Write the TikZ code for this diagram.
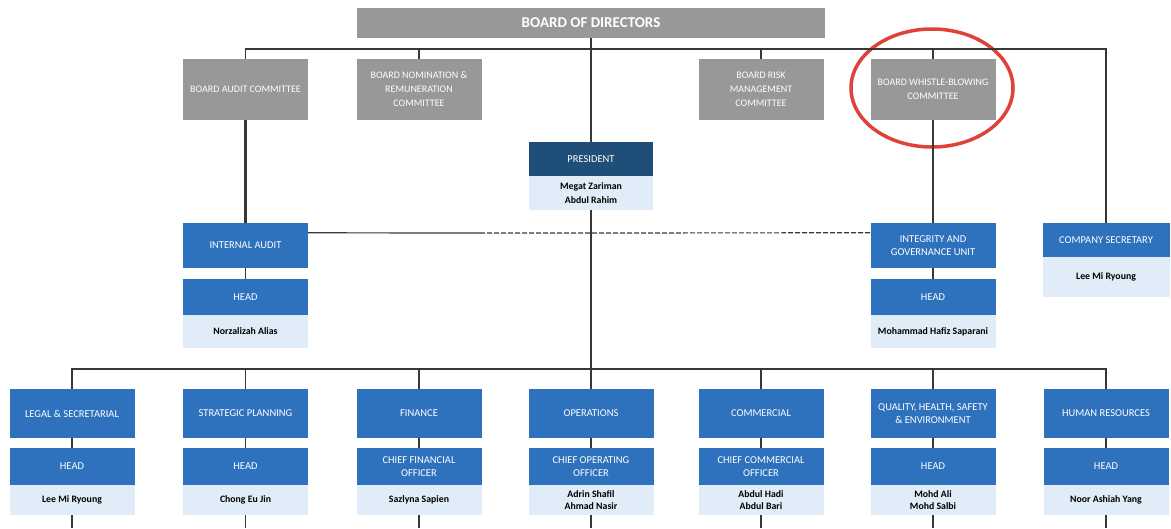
\documentclass[tikz,border=0pt]{standalone}
\usepackage{fontspec}
\setmainfont{Carlito}
\usepackage{tikz}
\usetikzlibrary{positioning}
\definecolor{boardgrey}{RGB}{152,152,152}
\definecolor{unitblue}{RGB}{46,114,190}
\definecolor{presblue}{RGB}{31,78,121}
\definecolor{namebg}{RGB}{224,236,247}
\definecolor{linegrey}{RGB}{55,55,55}
\definecolor{circlered}{RGB}{222,66,58}

\begin{document}
\begin{tikzpicture}[x=1pt,y=-1pt,
    grey node/.style={rectangle,fill=boardgrey,text=white,align=center,inner sep=1pt,minimum width=125pt,minimum height=61pt,font=\fontsize{10}{14}\selectfont},
    blue node/.style={rectangle,fill=unitblue,text=white,align=center,inner sep=1pt,minimum width=125pt,minimum height=49pt,font=\fontsize{10.5}{13}\selectfont},
    head node/.style={blue node,minimum height=37pt},
    name node/.style={rectangle,fill=namebg,text=black,align=center,inner sep=1pt,minimum width=125pt,minimum height=30pt,font=\fontsize{9.8}{12}\selectfont\bfseries},
    link/.style={-,line width=1.2pt,draw=linegrey}]
  \useasboundingbox (0,0) rectangle (1171,528);
  \begin{scope}
    % board and committees
    \node[grey node,minimum width=468pt,minimum height=30pt,font=\fontsize{15}{17}\selectfont\bfseries] (bod) at (591,23) {BOARD OF DIRECTORS};
    \node[grey node] (bac) at (245.5,89.5) {BOARD AUDIT COMMITTEE};
    \node[grey node] (bnc) at (419,89.5) {BOARD NOMINATION \&\\REMUNERATION\\COMMITTEE};
    \node[grey node] (brm) at (761,89.5) {BOARD RISK\\MANAGEMENT\\COMMITTEE};
    \node[grey node] (bwc) at (933,89.5) {BOARD WHISTLE-BLOWING\\COMMITTEE};
    \coordinate (topbus) at (591,49);
    \draw[circlered,line width=3.5pt] (932,88) ellipse [x radius=81, y radius=59];

    % president
    \node[blue node,fill=presblue,minimum width=124pt,minimum height=34pt] (pres) at (591,159) {PRESIDENT};
    \node[name node,minimum width=124pt,minimum height=34pt,font=\fontsize{9.8}{14}\selectfont\bfseries] (presn) at (591,193) {Megat Zariman\\Abdul Rahim};

    % units reporting to committees
    \node[blue node,minimum height=45pt] (ia) at (245.5,245.5) {INTERNAL AUDIT};
    \node[head node,minimum height=36pt] (iah) at (245.5,297) {HEAD};
    \node[name node,minimum height=33pt] (ian) at (245.5,331.5) {Norzalizah Alias};
    \node[blue node,minimum height=45pt] (igu) at (933,245.5) {INTEGRITY AND\\GOVERNANCE UNIT};
    \node[head node,minimum height=36pt] (iguh) at (933,297) {HEAD};
    \node[name node,minimum height=33pt] (igun) at (933,331.5) {Mohammad Hafiz Saparani};
    \node[blue node,minimum width=127pt,minimum height=34pt] (cs) at (1106,240) {COMPANY SECRETARY};
    \node[name node,minimum width=127pt,minimum height=40pt] (csn) at (1106,277) {Lee Mi Ryoung};
    \coordinate (iamid) at (480,233);

    % divisions
    \node[blue node] (legal) at (72,413.5) {LEGAL \& SECRETARIAL};
    \node[head node] (legalh) at (72,466.5) {HEAD};
    \node[name node] (legaln) at (72,500) {Lee Mi Ryoung};
    \node[blue node] (strat) at (245.5,413.5) {STRATEGIC PLANNING};
    \node[head node] (strath) at (245.5,466.5) {HEAD};
    \node[name node] (stratn) at (245.5,500) {Chong Eu Jin};
    \node[blue node] (fin) at (419,413.5) {FINANCE};
    \node[head node] (finh) at (419,466.5) {CHIEF FINANCIAL\\OFFICER};
    \node[name node] (finn) at (419,500) {Sazlyna Sapien};
    \node[blue node] (ops) at (591,413.5) {OPERATIONS};
    \node[head node] (opsh) at (591,466.5) {CHIEF OPERATING\\OFFICER};
    \node[name node] (opsn) at (591,500) {Adrin Shafil\\Ahmad Nasir};
    \node[blue node] (com) at (761,413.5) {COMMERCIAL};
    \node[head node] (comh) at (761,466.5) {CHIEF COMMERCIAL\\OFFICER};
    \node[name node] (comn) at (761,500) {Abdul Hadi\\Abdul Bari};
    \node[blue node] (qhse) at (933,413.5) {QUALITY, HEALTH, SAFETY\\\& ENVIRONMENT};
    \node[head node] (qhseh) at (933,466.5) {HEAD};
    \node[name node] (qhsen) at (933,500) {Mohd Ali\\Mohd Salbi};
    \node[blue node] (hr) at (1106,413.5) {HUMAN RESOURCES};
    \node[head node] (hrh) at (1106,466.5) {HEAD};
    \node[name node] (hrn) at (1106,500) {Noor Ashiah Yang};
    \coordinate (botbus) at (591,369);

    % connectors
    \path[link] (bod.south) edge (pres.north);
    \draw[link] (bac.north) |- (topbus) -| (cs.north);
    \path[link] (bnc.north) edge (bnc.north |- topbus);
    \path[link] (brm.north) edge (brm.north |- topbus);
    \path[link] (bwc.north) edge (bwc.north |- topbus);
    \path[link,line width=2.6pt] (bac.south) edge (ia.north);
    \path[link] (bwc.south) edge (igu.north);
    \path[link] ([yshift=-10pt]ia.north east) edge (iamid);
    \path[link,dash pattern=on 5pt off 2pt] (iamid) edge ([yshift=-10pt]igu.north west);
    \path[link] (ia.south) edge (iah.north);
    \path[link] (igu.south) edge (iguh.north);
    \path[link] (presn.south) edge (ops.north);
    \draw[link] (legal.north) |- (botbus) -| (hr.north);
    \path[link] (strat.north) edge (strat.north |- botbus);
    \path[link] (fin.north) edge (fin.north |- botbus);
    \path[link] (com.north) edge (com.north |- botbus);
    \path[link] (qhse.north) edge (qhse.north |- botbus);
    \path[link] (legal.south) edge (legalh.north);
    \path[link] (strat.south) edge (strath.north);
    \path[link] (fin.south) edge (finh.north);
    \path[link] (ops.south) edge (opsh.north);
    \path[link] (com.south) edge (comh.north);
    \path[link] (qhse.south) edge (qhseh.north);
    \path[link] (hr.south) edge (hrh.north);
    \path[link] (legaln.south) edge ++(0,13);
    \path[link] (stratn.south) edge ++(0,13);
    \path[link] (finn.south) edge ++(0,13);
    \path[link] (opsn.south) edge ++(0,13);
    \path[link] (comn.south) edge ++(0,13);
    \path[link] (qhsen.south) edge ++(0,13);
    \path[link] (hrn.south) edge ++(0,13);
  \end{scope}
\end{tikzpicture}
\end{document}
